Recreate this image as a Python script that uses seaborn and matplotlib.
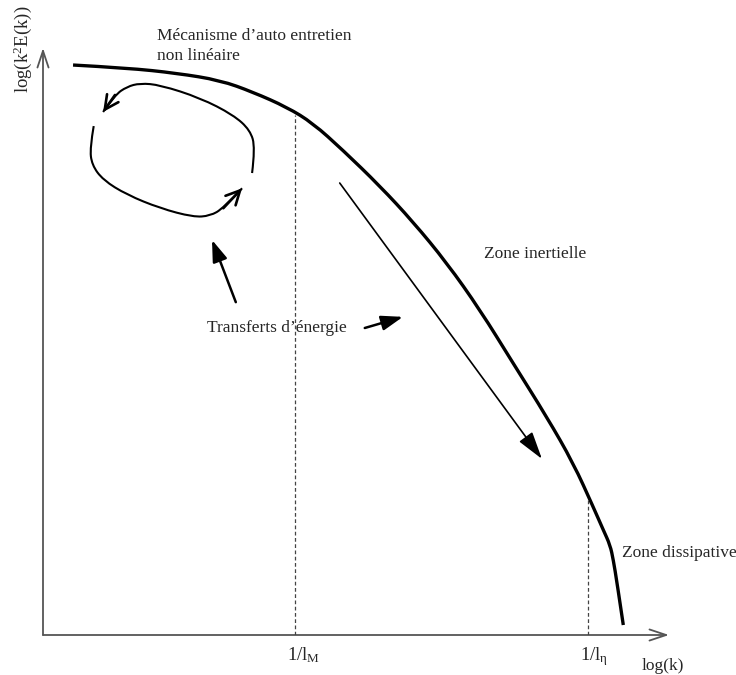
"""plot.py - energy spectrum sketch (log k vs log k^2 E(k))"""

import matplotlib.pyplot as plt
import seaborn as sns
from matplotlib.patches import FancyArrowPatch, PathPatch
from matplotlib.path import Path

# main spectrum curve, in axis units (0..10 on both axes)
LOG_K = [0.48, 1.34, 2.14, 2.83, 3.35, 3.90, 4.31, 4.79, 5.38, 5.91, 6.45,
         6.98, 7.51, 8.05, 8.47, 8.79, 8.95, 9.06, 9.11, 9.17, 9.27]
LOG_E = [9.71, 9.66, 9.57, 9.45, 9.25, 8.99, 8.72, 8.26, 7.65, 7.04, 6.34,
         5.54, 4.63, 3.71, 2.93, 2.18, 1.79, 1.53, 1.28, 0.89, 0.17]

# self-sustaining loop (two curved arrows)
LOOP_LOW_X = [0.81, 0.75, 0.78, 0.96, 1.34, 1.87, 2.40, 2.67, 2.88, 3.18]
LOOP_LOW_Y = [8.67, 8.30, 8.01, 7.75, 7.50, 7.27, 7.12, 7.14, 7.27, 7.61]
LOOP_UP_X = [3.34, 3.39, 3.31, 3.04, 2.51, 1.87, 1.55, 1.34, 1.15, 0.96]
LOOP_UP_Y = [7.87, 8.30, 8.60, 8.86, 9.15, 9.37, 9.40, 9.34, 9.20, 8.91]

# scale markers 1/lM and 1/l_eta : (x, top of dashed line)
SCALE_X = [4.03, 8.71]
SCALE_TOP = [8.86, 2.30]
SCALE_LABELS = [r"$\mathrm{1/l_M}$", r"$\mathrm{1/l_η}$"]

# straight arrows: (x_tail, y_tail, x_head, y_head)
ARROWS = [
    (3.08, 5.67, 2.70, 6.73),
    (5.14, 5.23, 5.75, 5.42),
    (4.74, 7.70, 7.97, 3.00),
]

sns.set_style("white")
plt.rcParams["font.family"] = ["Liberation Serif", "DejaVu Serif"]
plt.rcParams["mathtext.fontset"] = "custom"
plt.rcParams["mathtext.rm"] = "Liberation Serif"
plt.rcParams["mathtext.it"] = "Liberation Serif:italic"


def smooth_path(xs, ys):
    """quadratic bezier through midpoints, read points act as control points"""
    verts = [(xs[0], ys[0])]
    codes = [Path.MOVETO]
    for i in range(1, len(xs) - 1):
        mid = ((xs[i] + xs[i + 1]) / 2, (ys[i] + ys[i + 1]) / 2)
        if i == len(xs) - 2:
            mid = (xs[-1], ys[-1])
        verts += [(xs[i], ys[i]), mid]
        codes += [Path.CURVE3, Path.CURVE3]
    return Path(verts, codes)


fig = plt.figure(figsize=(7.36, 6.75), dpi=100)
ax = fig.add_axes([43 / 736, 40 / 675, 626 / 736, 587 / 675])
ax.set_xlim(0, 10)
ax.set_ylim(0, 10)
ax.set_axis_off()

# axes with open arrow heads
for tip in [(10, 0), (0, 10)]:
    ax.add_patch(FancyArrowPatch((0, 0), tip, arrowstyle="->,head_length=1.2,head_width=0.4",
                                 mutation_scale=10, color="#555555", lw=1.3,
                                 shrinkA=0, shrinkB=0, clip_on=False))

# dashed scale lines
for x, top in zip(SCALE_X, SCALE_TOP):
    ax.plot([x, x], [0, top], color="#444444", lw=0.9, dashes=(3, 2))

# main spectrum (smoothed through the read points)
ax.add_patch(PathPatch(smooth_path(LOG_K, LOG_E), fill=False, color="black", lw=2.4,
                       capstyle="butt"))

# loop arcs + arrow heads
for xs, ys in [(LOOP_LOW_X, LOOP_LOW_Y), (LOOP_UP_X, LOOP_UP_Y)]:
    ax.add_patch(PathPatch(smooth_path(xs, ys), fill=False, color="black", lw=1.5,
                           capstyle="butt"))
    ax.add_patch(FancyArrowPatch((xs[-2], ys[-2]), (xs[-1], ys[-1]),
                                 arrowstyle="->,head_length=1.0,head_width=0.5",
                                 mutation_scale=10, color="black", lw=1.9,
                                 shrinkA=0, shrinkB=0))

for i, (x0, y0, x1, y1) in enumerate(ARROWS):
    long_one = i == 2
    style = ("-|>,head_length=1.7,head_width=0.5" if long_one
             else "-|>,head_length=1.3,head_width=0.45")
    ax.add_patch(FancyArrowPatch((x0, y0), (x1, y1), arrowstyle=style,
                                 mutation_scale=10, color="black",
                                 lw=1.2 if long_one else 1.8,
                                 shrinkA=0, shrinkB=0))

# texts
fs = 12.5
ax.text(1.82, 10.14, "Mécanisme d’auto entretien", fontsize=fs, va="baseline", clip_on=False)
ax.text(1.82, 9.80, "non linéaire", fontsize=fs, va="baseline", clip_on=False)
ax.text(7.04, 6.42, "Zone inertielle", fontsize=fs, va="baseline")
ax.text(2.62, 5.16, "Transferts d’énergie", fontsize=fs, va="baseline")
ax.text(9.25, 1.33, "Zone dissipative", fontsize=fs, va="baseline", clip_on=False)
ax.text(9.57, -0.60, "log(k)", fontsize=fs, va="baseline", clip_on=False)
ax.text(-0.32, 9.97, r"$\mathrm{log(k^2E(k))}$", fontsize=fs + 1, rotation=90,
        ha="center", va="center", clip_on=False)
for x, lab in zip(SCALE_X, SCALE_LABELS):
    ax.text(x - 0.13, -0.43, lab, fontsize=fs + 1, va="baseline", clip_on=False)

fig.savefig("out.png", dpi=100)
